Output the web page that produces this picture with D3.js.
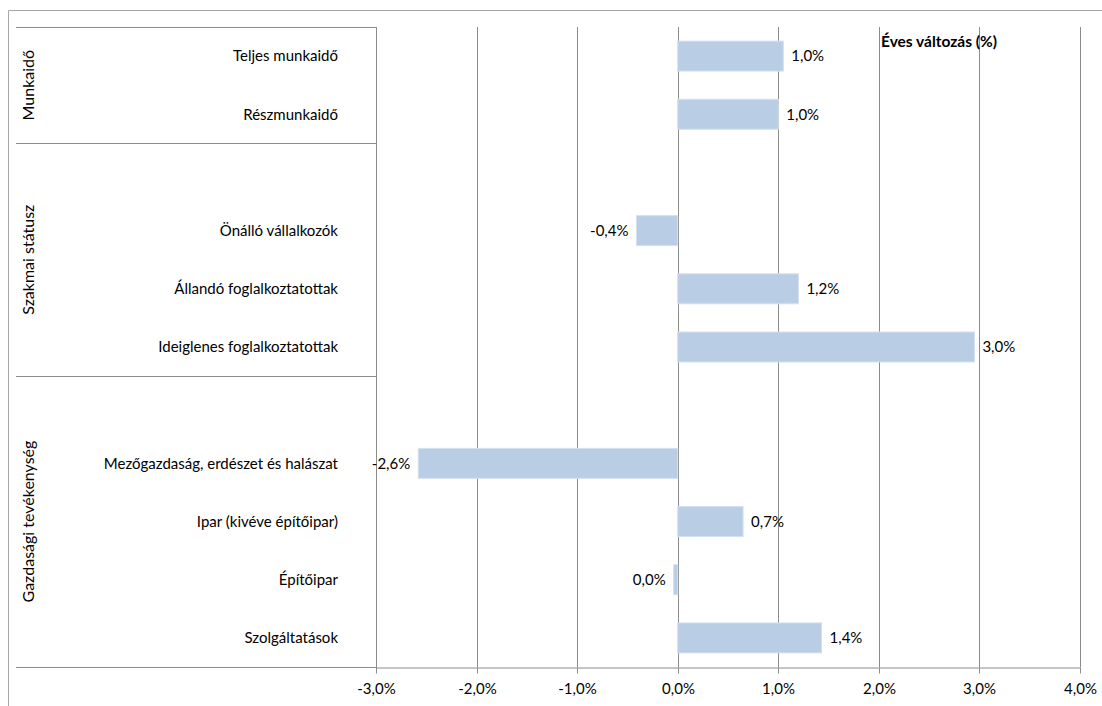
<!DOCTYPE html>
<html>
<head>
<meta charset="utf-8">
<script src="https://cdn.jsdelivr.net/npm/d3@7"></script>
<style>
  body { margin: 0; background: #fff; }
  svg text { font-family: Lato, "Open Sans", sans-serif; fill: #000; }
</style>
</head>
<body>
<svg id="chart"></svg>
<script>
// rows, top to bottom ('' = empty row)
const categories = ['Teljes munkaidő', 'Részmunkaidő', '', 'Önálló vállalkozók', 'Állandó foglalkoztatottak',
  'Ideiglenes foglalkoztatottak', '', 'Mezőgazdaság, erdészet és halászat', 'Ipar (kivéve építőipar)',
  'Építőipar', 'Szolgáltatások'];
const values = [1.05, 1.0, null, -0.41, 1.2, 2.95, null, -2.58, 0.65, -0.04, 1.43];
const valueLabels = ['1,0%', '1,0%', '', '-0,4%', '1,2%', '3,0%', '', '-2,6%', '0,7%', '0,0%', '1,4%'];
const groups = ['Munkaidő', 'Szakmai státusz', 'Gazdasági tevékenység'];
const groupRows = [[0, 1], [2, 5], [6, 10]];
const ticks = [-3, -2, -1, 0, 1, 2, 3, 4];
const tickLabels = ['-3,0%', '-2,0%', '-1,0%', '0,0%', '1,0%', '2,0%', '3,0%', '4,0%'];

const width = 1102;
const height = 706;
const plotLeft = 376, plotRight = 1080, plotTop = 27, plotBottom = 667;

const svg = d3.select('#chart')
  .attr('width', width)
  .attr('height', height);

const x = d3.scaleLinear().domain([-3, 4]).range([plotLeft, plotRight]);
const y = d3.scaleBand().domain(d3.range(categories.length)).range([plotTop, plotBottom]).paddingInner(0.485).paddingOuter(0.2425);
const step = y.step();
const rowTop = i => plotTop + i * step;

// outer frame
svg.append('path')
  .attr('d', `M8.5,${height}V10.5H${width}`)
  .attr('fill', 'none').attr('stroke', '#a6a6a6');

// gridlines
svg.selectAll('.grid')
  .data(ticks)
  .enter().append('line')
    .attr('x1', d => Math.round(x(d)) + 0.5)
    .attr('x2', d => Math.round(x(d)) + 0.5)
    .attr('y1', plotTop)
    .attr('y2', plotBottom)
    .attr('stroke', '#8c8c8c');

// bottom axis
const axis = svg.append('g')
  .attr('transform', `translate(0,${plotBottom + 0.5})`)
  .call(d3.axisBottom(x).tickValues(ticks).tickFormat((d, i) => tickLabels[i]).tickSize(6).tickSizeOuter(0).tickPadding(10));
axis.select('.domain').attr('stroke', '#8c8c8c');
axis.selectAll('.tick line').attr('stroke', '#8c8c8c');
axis.selectAll('.tick').attr('transform', d => `translate(${Math.round(x(d)) + 0.5},0)`);
axis.selectAll('text').attr('font-size', 15).attr('font-family', 'Lato, sans-serif');

// group separators
const seps = [0, 2, 6, 11];
svg.selectAll('.sep')
  .data(seps)
  .enter().append('line')
    .attr('x1', 16)
    .attr('x2', plotLeft)
    .attr('y1', d => Math.round(rowTop(d)) + 0.5)
    .attr('y2', d => Math.round(rowTop(d)) + 0.5)
    .attr('stroke', '#8c8c8c');

// left axis line
svg.append('line')
  .attr('x1', plotLeft + 0.5).attr('x2', plotLeft + 0.5)
  .attr('y1', plotTop).attr('y2', plotBottom + 6)
  .attr('stroke', '#8c8c8c');

// group labels
svg.selectAll('.group')
  .data(groups)
  .enter().append('text')
    .attr('transform', (d, i) => {
      const cy = (rowTop(groupRows[i][0]) + rowTop(groupRows[i][1] + 1)) / 2;
      return `translate(34,${cy}) rotate(-90)`;
    })
    .attr('text-anchor', 'middle')
    .attr('font-size', 16)
    .text(d => d);

// category labels
svg.selectAll('.cat')
  .data(categories)
  .enter().append('text')
    .attr('x', 338)
    .attr('y', (d, i) => y(i) + y.bandwidth() / 2)
    .attr('dy', '0.35em')
    .attr('text-anchor', 'end')
    .attr('font-size', 15)
    .text(d => d);

const rows = values.map((v, i) => ({ v, i, label: valueLabels[i] })).filter(d => d.v !== null);

// bars
svg.selectAll('.bar')
  .data(rows)
  .enter().append('rect')
    .attr('x', d => x(Math.min(0, d.v)))
    .attr('y', d => y(d.i))
    .attr('width', d => Math.abs(x(d.v) - x(0)))
    .attr('height', y.bandwidth())
    .attr('fill', '#b9cde5')
    .attr('stroke', '#d3e0ef')
    .attr('stroke-width', 1);

// value labels
svg.selectAll('.val')
  .data(rows)
  .enter().append('text')
    .attr('x', d => d.v < 0 ? x(d.v) - 8 : x(d.v) + 8)
    .attr('y', d => y(d.i) + y.bandwidth() / 2)
    .attr('dy', '0.35em')
    .attr('text-anchor', d => d.v < 0 ? 'end' : 'start')
    .attr('font-size', 15)
    .text(d => d.label);

// title
svg.append('text')
  .attr('x', 881)
  .attr('y', 47)
  .attr('font-size', 15.5)
  .attr('font-weight', 'bold')
  .text('Éves változás (%)');
</script>
</body>
</html>
